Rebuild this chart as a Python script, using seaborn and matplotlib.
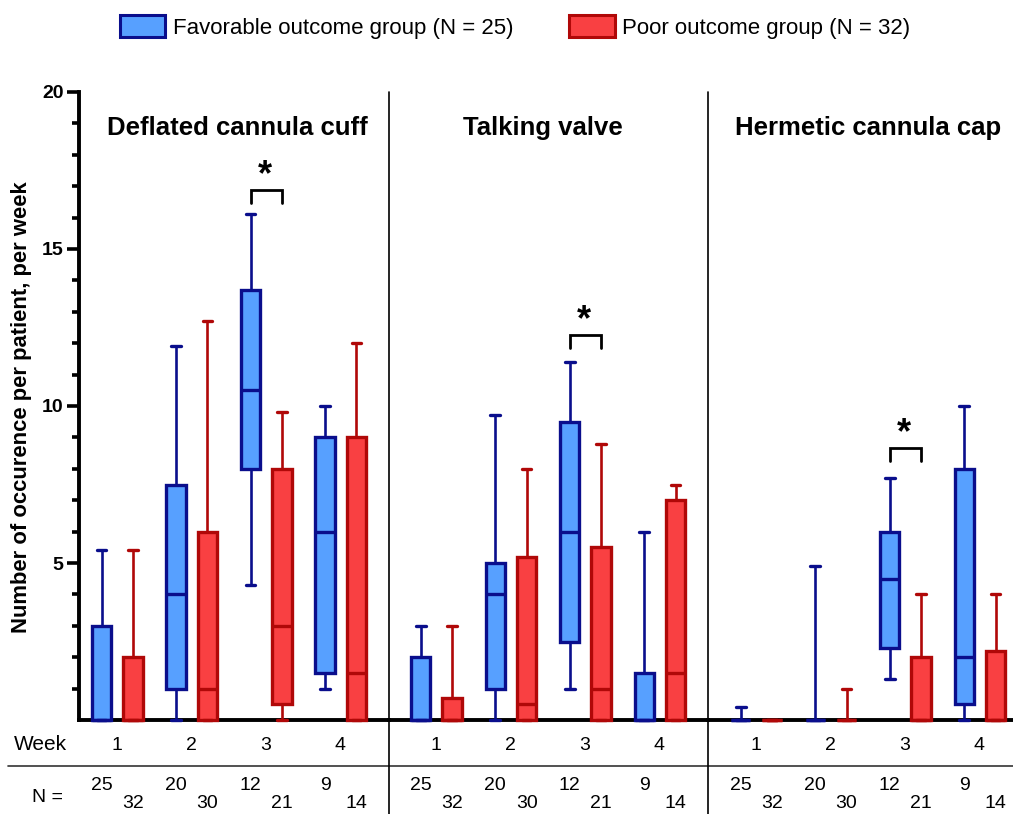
import numpy as np
import pandas as pd
import matplotlib
matplotlib.use("Agg")
import matplotlib.pyplot as plt
import matplotlib.transforms as mtransforms
from matplotlib.patches import Patch
from matplotlib.lines import Line2D
import seaborn as sns

# ---------------------------------------------------------------- data
weeks = [1, 2, 3, 4]
panel_titles = ["Deflated cannula cuff", "Talking valve", "Hermetic cannula cap"]
group_labels = ["Favorable outcome group (N = 25)", "Poor outcome group (N = 32)"]

# weekly five-number summaries: [min, Q1, median, Q3, max]
cuff_fav = [[0, 0, 0, 3, 5.4], [0, 1, 4, 7.5, 11.9], [4.3, 8, 10.5, 13.7, 16.1], [1, 1.5, 6, 9, 10]]
cuff_poor = [[0, 0, 0, 2, 5.4], [0, 0, 1, 6, 12.7], [0, 0.5, 3, 8, 9.8], [0, 0, 1.5, 9, 12]]
valve_fav = [[0, 0, 0, 2, 3], [0, 1, 4, 5, 9.7], [1, 2.5, 6, 9.5, 11.4], [0, 0, 0, 1.5, 6]]
valve_poor = [[0, 0, 0, 0.7, 3], [0, 0, 0.5, 5.2, 8], [0, 0, 1, 5.5, 8.8], [0, 0, 1.5, 7, 7.5]]
cap_fav = [[0, 0, 0, 0, 0.4], [0, 0, 0, 0, 4.9], [1.3, 2.3, 4.5, 6, 7.7], [0, 0.5, 2, 8, 10]]
cap_poor = [[0, 0, 0, 0, 0], [0, 0, 0, 0, 1], [0, 0, 0, 2, 4], [0, 0, 0, 2.2, 4]]

# patients per week
n_fav = [25, 20, 12, 9]
n_poor = [32, 30, 21, 14]

# significant weeks (*) and bracket height per panel
sig_week = [3, 3, 3]
sig_level = [16.88, 12.26, 8.67]

# ---------------------------------------------------------------- style
sns.set_style("white")
plt.rcParams["font.family"] = ["Liberation Sans", "DejaVu Sans"]
plt.rcParams["text.color"] = "black"
plt.rcParams["axes.labelcolor"] = "black"
plt.rcParams["ytick.color"] = "black"
plt.rcParams["xtick.color"] = "black"

FAV_FILL, FAV_EDGE = "#57A0FF", "#0A0E8C"
POOR_FILL, POOR_EDGE = "#F94042", "#B00808"
FAV_OFF, POOR_OFF = -0.20, 0.22

W, H = 1013, 814
fig = plt.figure(figsize=(W / 100, H / 100), dpi=100)


def fx(px):
    return px / W


def fy(py):
    return 1 - py / H


TOP, BOTTOM = 92, 720
panel_px = [(79, 389), (389, 708), (708, 1028)]
panel_xlim = [(0.497, 4.658), (0.373, 4.655), (0.360, 4.655)]
title_xfrac = [0.51, 0.481, 0.50]

panels = [(cuff_fav, cuff_poor), (valve_fav, valve_poor), (cap_fav, cap_poor)]

for i, ((fav, poor), (l, r)) in enumerate(zip(panels, panel_px)):
    ax = fig.add_axes([fx(l), fy(BOTTOM), fx(r - l), (BOTTOM - TOP) / H])
    for summ, off, fill, edge in [(fav, FAV_OFF, FAV_FILL, FAV_EDGE),
                                  (poor, POOR_OFF, POOR_FILL, POOR_EDGE)]:
        df = pd.DataFrame({
            "pos": np.repeat([w + off for w in weeks], 5),
            "value": np.concatenate([np.asarray(s, float) for s in summ]),
        })
        sns.boxplot(data=df, x="pos", y="value", native_scale=True, width=0.26,
                    color=fill, linecolor=edge, saturation=1, whis=(0, 100),
                    linewidth=2.4, ax=ax,
                    whiskerprops=dict(linewidth=1.9),
                    capprops=dict(linewidth=2.4))
    for art in list(ax.patches) + list(ax.lines):
        art.set_clip_on(False)
        art.set_zorder(3)

    ax.set_xlim(*panel_xlim[i])
    ax.set_ylim(0, 20)
    ax.set_xlabel("")
    ax.set_ylabel("")
    ax.set_xticks([])
    ax.patch.set_alpha(0)
    for s in ["top", "right"]:
        ax.spines[s].set_visible(False)
    ax.spines["bottom"].set_linewidth(2.8)
    ax.spines["bottom"].set_color("black")
    ax.spines["bottom"].set_zorder(2)
    if i == 0:
        ax.spines["left"].set_linewidth(2.8)
        ax.spines["left"].set_color("black")
        ax.set_yticks([5, 10, 15, 20])
        ax.set_yticklabels(["5", "10", "15", "20"], fontsize=14, fontweight="bold")
        ax.set_yticks([v for v in range(1, 20) if v % 5], minor=True)
        ax.tick_params(axis="y", which="major", left=True, length=8.5, width=2.6, pad=2.5)
        ax.tick_params(axis="y", which="minor", left=True, length=5, width=2.6)
    else:
        ax.spines["left"].set_visible(False)
        ax.set_yticks([])

    # panel title
    ax.text(title_xfrac[i], (BOTTOM - 128) / (BOTTOM - TOP), panel_titles[i],
            transform=ax.transAxes, ha="center", va="center",
            fontsize=18.5, fontweight="bold")

    # significance bracket
    w = sig_week[i]
    y0 = sig_level[i]
    ax.plot([w + FAV_OFF, w + FAV_OFF, w + POOR_OFF, w + POOR_OFF],
            [y0 - 0.41, y0, y0, y0 - 0.41], color="black", lw=2.0,
            solid_joinstyle="miter", clip_on=False)
    ax.text(w + (FAV_OFF + POOR_OFF) / 2 - 0.02, y0 + 0.45, "*", ha="center",
            va="center", fontsize=26, fontweight="bold")

    # week row and patient counts
    tx = mtransforms.blended_transform_factory(ax.transData, fig.transFigure)
    for k, wk in enumerate(weeks):
        ax.text(wk, fy(745), str(wk), transform=tx, ha="center", va="center",
                fontsize=14)
        ax.text(wk + FAV_OFF, fy(786), str(n_fav[k]), transform=tx,
                ha="center", va="center", fontsize=14)
        ax.text(wk + POOR_OFF, fy(804), str(n_poor[k]), transform=tx,
                ha="center", va="center", fontsize=14)

# table labels and rules
fig.text(fx(14), fy(745), "Week", ha="left", va="center", fontsize=15)
fig.text(fx(47), fy(798), "N =", ha="center", va="center", fontsize=14)
fig.add_artist(Line2D([fx(8), 1], [fy(766), fy(766)], color="#333333", lw=1.2))
for xp in (389, 708):
    fig.add_artist(Line2D([fx(xp), fx(xp)], [fy(TOP), 0], color="black", lw=1.2))

# y-axis title
fig.text(fx(22), fy(407), "Number of occurence per patient, per week",
         rotation=90, ha="center", va="center", fontsize=15.8, fontweight="bold")

# legend
handles = [Patch(facecolor=FAV_FILL, edgecolor=FAV_EDGE, lw=2.2, label=group_labels[0]),
           Patch(facecolor=POOR_FILL, edgecolor=POOR_EDGE, lw=2.2, label=group_labels[1])]
fig.legend(handles=handles, loc="center", bbox_to_anchor=(fx(515), fy(27)),
           ncol=2, frameon=False, fontsize=16, handlelength=2.05,
           handleheight=1.15, handletextpad=0.35, columnspacing=2.5,
           borderpad=0, borderaxespad=0)

fig.savefig("out.png", dpi=100)
